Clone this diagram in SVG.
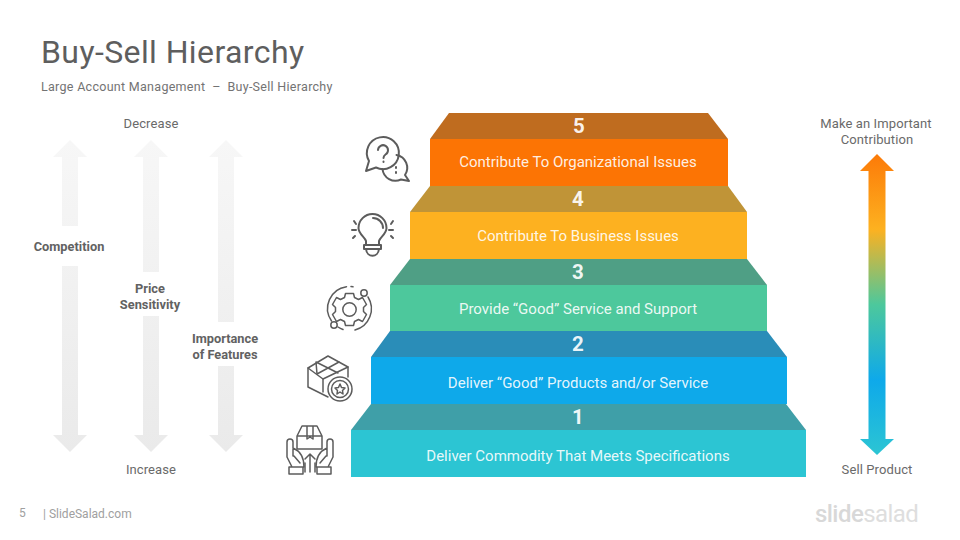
<svg xmlns="http://www.w3.org/2000/svg" width="960" height="540" viewBox="0 0 960 540">
<style>
text{font-family:Roboto,"Liberation Sans",sans-serif}
.t{fill:#6a6a6a;font-size:13px;text-anchor:middle;letter-spacing:.1px}
.b{fill:#626262;font-size:12.800px;font-weight:700;text-anchor:middle}
.s{fill:#fff;font-size:15px;text-anchor:middle;fill-opacity:.9}
.n{fill:#fff;font-size:20.500px;font-weight:700;text-anchor:middle;fill-opacity:.92}
.i{fill:none;stroke:#5c5c5c;stroke-width:1.500;stroke-linecap:round;stroke-linejoin:round}
.h{stroke-width:2}
.g{fill:url(#gr)}
</style>
<defs>
<linearGradient id="gr" gradientUnits="userSpaceOnUse" x1="0" y1="140" x2="0" y2="452"><stop offset="0" stop-color="#f7f7f7"/><stop offset="1" stop-color="#eaeaea"/></linearGradient>
<linearGradient id="rb" gradientUnits="userSpaceOnUse" x1="0" y1="154" x2="0" y2="455"><stop offset="0" stop-color="#fc7a08"/><stop offset=".25" stop-color="#fdb120"/><stop offset=".5" stop-color="#4dc89c"/><stop offset=".75" stop-color="#0ea9ea"/><stop offset="1" stop-color="#2cc5d3"/></linearGradient>
</defs>
<rect width="960" height="540" fill="#fff"/>
<text x="41" y="63" font-size="32" fill="#5e5e5e" style="letter-spacing:.4px">Buy-Sell Hierarchy</text>
<text x="41" y="91" font-size="12.500" fill="#737373" xml:space="preserve" style="letter-spacing:.29px;white-space:pre">Large Account Management  –  Buy-Sell Hierarchy</text>

<g id="connectors">
<path class="g" d="M70 140L87 157H78V226H62V157H53Z"/>
<path class="g" d="M62 266H78V435H87L70 452L53 435H62Z"/>
<path class="g" d="M151 140L168 157H159V272H143V157H134Z"/>
<path class="g" d="M143 316H159V435H168L151 452L134 435H143Z"/>
<path class="g" d="M226 140L243 157H234V322H218V157H209Z"/>
<path class="g" d="M218 366H234V435H243L226 452L209 435H218Z"/>
<path fill="url(#rb)" d="M877 154L894 171H885.500V439H894L877 455L860 439H868.500V171H860Z"/>
</g>

<g id="labels">
<text class="t" x="151" y="128">Decrease</text>
<text class="t" x="151" y="474">Increase</text>
<text class="b" x="69" y="251">Competition</text>
<text class="b" x="150" y="293">Price</text>
<text class="b" x="150" y="309">Sensitivity</text>
<text class="b" x="225" y="343">Importance</text>
<text class="b" x="225" y="359">of Features</text>
<text class="t" x="876" y="128">Make an Important</text>
<text class="t" x="877" y="144">Contribution</text>
<text class="t" x="877" y="474">Sell Product</text>
</g>

<g id="step-1">
<path fill="#3f9fa8" d="M371 404H786L806 430H351Z"/>
<rect x="351" y="430" width="455" height="47" fill="#2cc5d3"/>
<text class="n" x="578" y="424">1</text>
<text class="s" x="578" y="461">Deliver Commodity That Meets Specifications</text>
</g>
<g id="step-2">
<path fill="#2a8db8" d="M390 331H767L787 357H371Z"/>
<rect x="371" y="357" width="416" height="47" fill="#0ea9ea"/>
<text class="n" x="578" y="351">2</text>
<text class="s" x="578" y="388">Deliver “Good” Products and/or Service</text>
</g>
<g id="step-3">
<path fill="#4f9f85" d="M410 259H747L767 285H390Z"/>
<rect x="390" y="285" width="377" height="46" fill="#4dc89c"/>
<text class="n" x="578" y="279">3</text>
<text class="s" x="578" y="314">Provide “Good” Service and Support</text>
</g>
<g id="step-4">
<path fill="#c09437" d="M430 186H728L747 212H410Z"/>
<rect x="410" y="212" width="337" height="47" fill="#fdb120"/>
<text class="n" x="578" y="206">4</text>
<text class="s" x="578" y="241">Contribute To Business Issues</text>
</g>
<g id="step-5">
<path fill="#bf6c1f" d="M449 113H708L728 139H430Z"/>
<rect x="430" y="139" width="298" height="47" fill="#fc7404"/>
<text class="n" x="579" y="133">5</text>
<text class="s" x="578" y="167">Contribute To Organizational Issues</text>
</g>

<g id="icon-questions" class="i h">
<path d="M366 171L369 161A16 16 0 1 1 376 167.500Z"/>
<path d="M396.500 155A13 13 0 0 1 405 175L409 181L401 179.500A13 13 0 0 1 382.500 169"/>
<path d="M378 150A5 5 0 1 1 385.500 154.500C384 155.500 383.500 156 383.500 158M383.500 161.500V162M396 167V168M396 172V173"/>
</g>
<g id="icon-bulb" class="i h">
<path d="M366 245V241C365 237 358.500 234 358.500 228A14 14 0 0 1 386.500 228C386.500 234 380 237 379 241V245Z"/>
<path d="M364 245H381V249H364ZM366 249C367 258 378 258 379 249M373 218A10 10 0 0 1 383 228"/>
<path d="M352 230H356M354 221L356 224M353 238L355 236M393 230H389M393 221L391 224M393 238L391 236"/>
</g>
<g id="icon-gear" class="i">
<path d="M346.500 286.700A22 22 0 0 0 331.500 321M368 297A22 22 0 0 1 355 330M343 329.500A22 22 0 0 1 338 327M351 286.500L353 286.800"/>
<circle cx="364" cy="293" r="3.200"/><circle cx="334" cy="325" r="3.200"/>
<path d="M345.500 293.500H353.500L354.500 297.500L358.500 299.500L362.500 297.500L366.500 304.500L363.500 307.500V311.500L366.500 314.500L362.500 321.500L358.500 319.500L354.500 321.500L353.500 325.500H345.500L344.500 321.500L340.500 319.500L336.500 321.500L332.500 314.500L335.500 311.500V307.500L332.500 304.500L336.500 297.500L340.500 299.500L344.500 297.500Z"/>
<circle cx="349.500" cy="309.500" r="6.700"/>
</g>
<g id="icon-box" class="i">
<path d="M328 356L348 367L323 379L308 368Z"/>
<path d="M308 368V387L328 397M323 379V392M348 367V377M316 362L338 373M317 374L339 362M316 362L317 374"/>
<circle cx="340" cy="389" r="12"/><circle cx="340" cy="389" r="8.500"/>
<path d="M340 384L341.500 387.500L345 388L342.500 390.500L343 394L340 392L337 394L337.500 390.500L335 388L338.500 387.500Z"/>
</g>
<g id="icon-hands" class="i">
<path d="M297 436H322V449H297ZM297 436L302 426H317L322 436M307 426V439L310 437L313 439V426"/>
<path d="M292 467L287 457V442A3 3 0 0 1 293 442V456M293 448C300 451 304 458 304 467M294 456L300 463M289 467H303V474H289Z"/>
<path d="M328 467L333 457V442A3 3 0 0 0 327 442V456M327 448C320 451 316 458 316 467M326 456L320 463M331 467H317V474H331Z"/>
<path d="M310 472V454M305 459L310 454L315 459M305 463V472M315 463V472"/>
</g>

<g id="footer">
<text x="19" y="517" font-size="12" fill="#a0a0a0">5</text>
<text x="43" y="518" font-size="12" fill="#a0a0a0">| SlideSalad.com</text>
<text x="815" y="522" font-size="24" font-weight="500" fill="#d8d8d8" style="letter-spacing:-.55px">slide<tspan font-weight="400" fill="#dedede">salad</tspan></text>
</g>
</svg>
